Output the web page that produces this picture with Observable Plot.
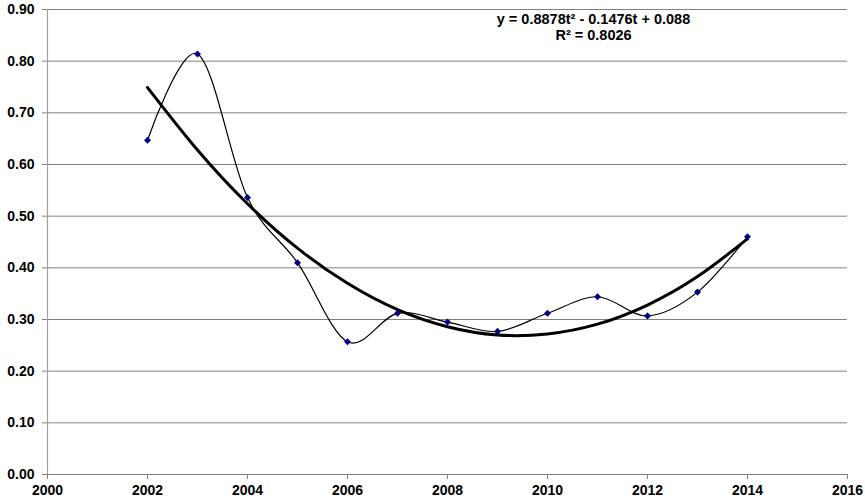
<!DOCTYPE html>
<html><head><meta charset="utf-8">
<script src="https://cdn.jsdelivr.net/npm/d3@7"></script>
<script src="https://cdn.jsdelivr.net/npm/@observablehq/plot@0.6"></script>
<style>body{margin:0;background:#fff}</style>
</head><body><div id="chart"></div>
<script>
const years = [2002, 2003, 2004, 2005, 2006, 2007, 2008, 2009, 2010, 2011, 2012, 2013, 2014];
const values = [0.647, 0.814, 0.536, 0.410, 0.257, 0.312, 0.295, 0.277, 0.312, 0.344, 0.307, 0.353, 0.460];
const trendValues = [0.749, 0.628, 0.524, 0.438, 0.370, 0.319, 0.286, 0.270, 0.272, 0.291, 0.328, 0.383, 0.456];
const xTicks = [2000, 2002, 2004, 2006, 2008, 2010, 2012, 2014, 2016];
const yTicks = [0, 0.1, 0.2, 0.3, 0.4, 0.5, 0.6, 0.7, 0.8, 0.9];
const equationText = "y = 0.8878t² - 0.1476t + 0.088";
const r2Text = "R² = 0.8026";

const data = years.map((year, i) => ({year, value: values[i], trend: trendValues[i]}));

const chart = Plot.plot({
  width: 865, height: 504,
  marginTop: 9, marginBottom: 30, marginLeft: 47, marginRight: 18,
  style: {fontFamily: "'Liberation Sans', Arial, sans-serif", fontSize: "14px", fontWeight: "bold", background: "#fff", color: "#000"},
  x: {domain: [2000, 2016]},
  y: {domain: [0, 0.9]},
  marks: [
    Plot.ruleY(yTicks.filter(d => d > 0), {stroke: "#808080", strokeWidth: 1}),
    Plot.axisX({ticks: xTicks, tickFormat: d3.format("d"), tickSize: 5, tickPadding: 6, stroke: "#808080", fill: "#000", label: null}),
    Plot.axisY({ticks: yTicks, tickFormat: d3.format(".2f"), tickSize: 5, tickPadding: 8, stroke: "#808080", fill: "#000", label: null}),
    Plot.ruleX([2000], {stroke: "#a0a0a0", strokeWidth: 1.2}),
    Plot.ruleY([0], {stroke: "#808080"}),
    Plot.line(data, {x: "year", y: "trend", curve: "natural", stroke: "#000", strokeWidth: 3}),
    Plot.line(data, {x: "year", y: "value", curve: "cardinal", stroke: "#000", strokeWidth: 1.2}),
    Plot.dot(data, {x: "year", y: "value", symbol: "square", rotate: 45, r: 2.8, fill: "#000080", stroke: null}),
    Plot.text([equationText + "\n" + r2Text], {frameAnchor: "top", dx: 146, dy: 3.4, lineHeight: 1.08, fontSize: 14.5, fontWeight: "bold", fill: "#000"})
  ]
});
document.getElementById("chart").append(chart);
</script>
</body></html>
